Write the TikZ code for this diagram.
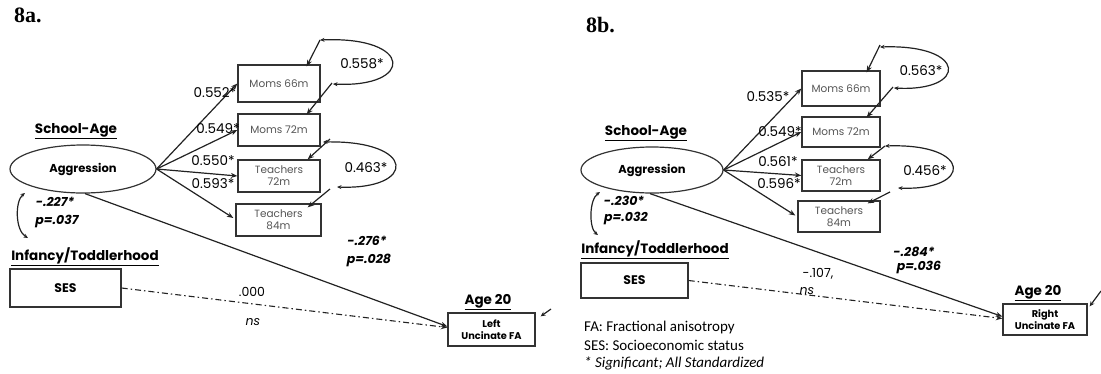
\documentclass[tikz,border=0pt]{standalone}
\usepackage{fontspec}
\setmainfont{Poppins}
\newfontfamily\legendfont{Carlito}
\newfontfamily\titlefont{Liberation Serif}
\usetikzlibrary{shapes.geometric,arrows.meta}
\definecolor{linec}{HTML}{222222}
\definecolor{boxc}{HTML}{333333}
\definecolor{txtc}{HTML}{555555}
\tikzset{
  obs/.style={draw=boxc,line width=1.3pt,rectangle,inner sep=0pt,align=center,text=txtc,font=\fontsize{10.5}{12}\selectfont},
  lat/.style={draw=boxc,line width=1.2pt,ellipse,inner sep=0pt,font=\bfseries\fontsize{11.5}{13}\selectfont},
  outc/.style={draw=boxc,line width=1.3pt,rectangle,inner sep=0pt,align=center,font=\bfseries\fontsize{9.8}{12}\selectfont},
  sesbox/.style={draw=boxc,line width=1.3pt,rectangle,inner sep=0pt,font=\bfseries\fontsize{12.5}{14}\selectfont},
  hdr/.style={font=\bfseries\fontsize{13.5}{15}\selectfont,inner sep=0pt},
  coef/.style={font=\fontsize{13.5}{15}\selectfont,inner sep=0pt},
  bcoef/.style={font=\bfseries\itshape\fontsize{12.5}{14}\selectfont,inner sep=0pt,align=left},
  path/.style={draw=linec,line width=1.2pt,-{Stealth[length=6.5pt,width=5pt]}},
  dpath/.style={draw=linec,line width=1.1pt,dash pattern=on 6pt off 3pt on 1.5pt off 3pt,-{Stealth[length=6.5pt,width=5pt]}},
  cov/.style={draw=linec,line width=1.2pt,{Stealth[length=4.5pt,width=4pt]}-{Stealth[length=4.5pt,width=4pt]}},
  res/.style={draw=linec,line width=1.2pt,-{Stealth[length=5pt,width=4.5pt]}},
  ttl/.style={font=\titlefont\bfseries\fontsize{22}{24}\selectfont,inner sep=0pt,anchor=north west},
  leg/.style={font=\legendfont\fontsize{15}{17}\selectfont,inner sep=0pt,anchor=west}
}
\begin{document}
\begin{tikzpicture}[x=1pt,y=-1pt]
\useasboundingbox (0,0) rectangle (1101,373);
% ===================== 8a =====================
\node[ttl] (ta) at (14,8) {8a.};
\node[hdr] (sa) at (76,131) {\underline{School-Age}};
\node[lat,minimum width=146pt,minimum height=48pt] (ag) at (83,169) {Aggression};
\node[obs,minimum width=82pt,minimum height=37pt] (m66) at (279,83.5) {Moms 66m};
\node[obs,minimum width=82pt,minimum height=32pt] (m72) at (279,130) {Moms 72m};
\node[obs,minimum width=82pt,minimum height=32pt] (t72) at (279,176) {Teachers\\72m};
\node[obs,minimum width=85pt,minimum height=32pt] (t84) at (278.5,220) {Teachers\\84m};
\node[hdr] (it) at (85,257) {\underline{Infancy/Toddlerhood}};
\node[sesbox,minimum width=111pt,minimum height=38pt] (ses) at (65.5,288) {SES};
\node[hdr] (a20) at (488,302) {\underline{Age 20}};
\node[outc,minimum width=87pt,minimum height=33pt] (lfa) at (491.5,329.5) {Left\\Uncinate FA};
% paths
\draw[path] (ag.east) -- (m66.west);
\draw[path] (ag.east) -- (m72.west);
\draw[path] (ag.east) -- (t72.west);
\draw[path] (ag.east) -- ([xshift=-2pt,yshift=2pt]t84.west);
\node[coef] (c1) at (215,93) {0.552*};
\node[coef] (c2) at (218,129) {0.549*};
\node[coef] (c3) at (213,161) {0.550*};
\node[coef] (c4) at (213,184) {0.593*};
\draw[path] ([xshift=2pt]ag.south) -- ([yshift=3pt]lfa.west);
\draw[dpath] ([yshift=0pt]ses.east) -- ([yshift=2pt]lfa.west);
\node[bcoef] (k1) at (367,241) {-.276*};
\node[bcoef] (k2) at (369,260) {p=.028};
\node[font=\fontsize{12.5}{14}\selectfont,inner sep=0pt] (z1) at (252,292) {.000};
\node[font=\itshape\fontsize{12.5}{14}\selectfont,inner sep=0pt] (z2) at (253,322) {ns};
% correlation SES-aggression
\coordinate (qa1) at (25,193);
\coordinate (qa2) at (28,238);
\draw[cov] (qa1) .. controls (15,201) and (15,230) .. (qa2);
\node[bcoef] (r1) at (55,202) {-.227*};
\node[bcoef] (r2) at (57,221) {p=.037};
% covariances
\coordinate (pa1) at (320,40);
\coordinate (pa2) at (333,84);
\draw[cov] (pa1) .. controls (414,36) and (414,88) .. (pa2);
\draw[path] (pa1) -- ([xshift=-14pt,yshift=-2pt]m66.north east);
\draw[path] ([xshift=-1pt,yshift=1pt]pa2) -- ([xshift=-14pt,yshift=-1pt]m72.north east);
\node[coef] (v1) at (362,64) {0.558*};
\coordinate (pa3) at (323,142);
\coordinate (pa4) at (337,187);
\draw[cov] (pa3) .. controls (417,140) and (417,190) .. (pa4);
\draw[path] ([xshift=7pt,yshift=3pt]pa3) -- ([xshift=-13pt]t72.north east);
\draw[path] ([xshift=-7pt,yshift=-2pt]pa4) -- ([xshift=-14pt,yshift=-4pt]t84.north east);
\node[coef] (v2) at (366,168) {0.463*};
% residual
\coordinate (ea) at (551,309);
\draw[res] (ea) -- ([xshift=5pt,yshift=-4pt]lfa.north east);
% ===================== 8b =====================
\node[ttl] (tb) at (586,17) {8b.};
\node[hdr] (sb) at (646,133) {\underline{School-Age}};
\node[lat,minimum width=142pt,minimum height=46pt] (bg) at (652,170) {Aggression};
\node[obs,minimum width=78pt,minimum height=35pt] (n66) at (841,88.5) {Moms 66m};
\node[obs,minimum width=78pt,minimum height=30pt] (n72) at (841,132) {Moms 72m};
\node[obs,minimum width=78pt,minimum height=31pt] (u72) at (841,175.5) {Teachers\\72m};
\node[obs,minimum width=82pt,minimum height=31pt] (u84) at (839,216.5) {Teachers\\84m};
\node[hdr] (ib) at (655,250) {\underline{Infancy/Toddlerhood}};
\node[sesbox,minimum width=107pt,minimum height=35pt] (sesb) at (634.5,280.5) {SES};
\node[hdr] (b20) at (1038,293) {\underline{Age 20}};
\node[outc,minimum width=84pt,minimum height=31pt] (rfa) at (1045,319.5) {Right\\Uncinate FA};
\draw[path] (bg.east) -- (n66.west);
\draw[path] (bg.east) -- (n72.west);
\draw[path] (bg.east) -- (u72.west);
\draw[path] (bg.east) -- ([xshift=-2pt,yshift=1pt]u84.west);
\node[coef] (d1) at (768,97) {0.535*};
\node[coef] (d2) at (780,132) {0.549*};
\node[coef] (d3) at (778,162) {0.561*};
\node[coef] (d4) at (779,184) {0.596*};
\draw[path] ([xshift=-2pt]bg.south) -- ([yshift=3pt]rfa.west);
\draw[dpath] (sesb.east) -- ([yshift=1pt]rfa.west);
\node[bcoef] (h1) at (914,252) {-.284*};
\node[bcoef] (h2) at (919,267) {p=.036};
\node[font=\fontsize{12.5}{14}\selectfont,inner sep=0pt] (y1) at (818,274) {-.107,};
\node[font=\itshape\fontsize{12.5}{14}\selectfont,inner sep=0pt] (y2) at (807,291) {ns};
\coordinate (qb1) at (600,192);
\coordinate (qb2) at (598,235);
\draw[cov] (qb1) .. controls (589,200) and (589,228) .. (qb2);
\node[bcoef] (s1) at (624,201) {-.230*};
\node[bcoef] (s2) at (626,218) {p=.032};
\coordinate (pb1) at (880,47);
\coordinate (pb2) at (894,88);
\draw[cov] (pb1) .. controls (968,44) and (968,92) .. (pb2);
\draw[path] ([yshift=2pt]pb1) -- ([xshift=-14pt,yshift=-2pt]n66.north east);
\draw[path] ([xshift=-1pt,yshift=1pt]pb2) -- ([xshift=-14pt,yshift=-1pt]n72.north east);
\node[coef] (w1) at (921,71) {0.563*};
\coordinate (pb3) at (885,146);
\coordinate (pb4) at (898,188);
\draw[cov] (pb3) .. controls (973,143) and (973,191) .. (pb4);
\draw[path] (pb3) -- ([xshift=-13pt]u72.north east);
\draw[path] ([xshift=-8pt,yshift=-4pt]pb4) -- ([xshift=-13pt,yshift=-3pt]u84.north east);
\node[coef] (w2) at (925,171) {0.456*};
\coordinate (eb) at (1101,291);
\draw[res] (eb) -- ([xshift=2pt,yshift=-3pt]rfa.north east);
% legend
\node[leg] (l1) at (584,327) {FA: Fractional anisotropy};
\node[leg] (l2) at (584,345) {SES: Socioeconomic status};
\node[leg,font=\legendfont\itshape\fontsize{15}{17}\selectfont] (l3) at (584,363) {* Significant; All Standardized};
\end{tikzpicture}
\end{document}
